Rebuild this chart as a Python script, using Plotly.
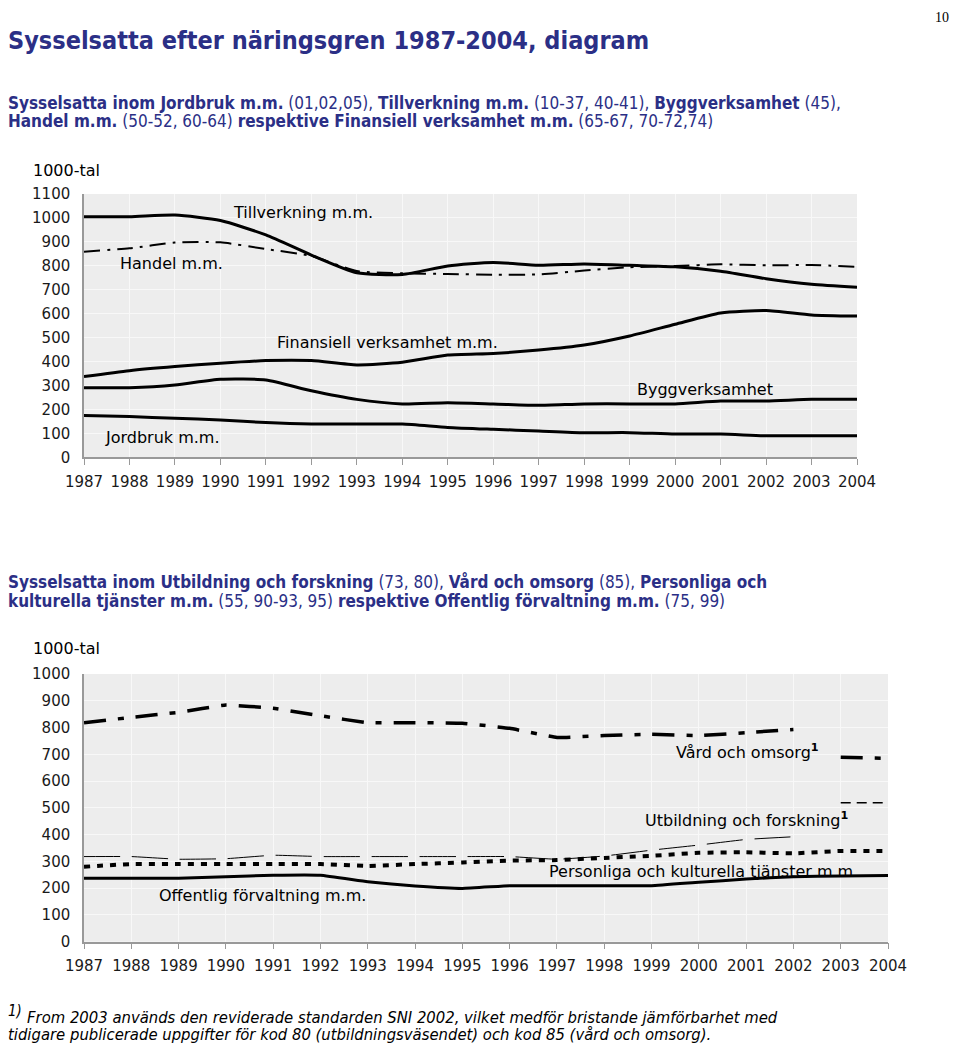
import plotly.graph_objects as go

years = list(range(1987, 2005))

# Top chart (1000-tal)
tillverkning = [1005, 1005, 1012, 989, 929, 845, 771, 764, 799, 814, 802, 808, 802, 796, 777, 746, 723, 710]
handel = [859, 873, 897, 898, 870, 841, 778, 769, 766, 763, 764, 780, 794, 799, 806, 802, 803, 796]
finansiell = [337, 362, 379, 393, 404, 404, 386, 397, 427, 434, 448, 469, 507, 556, 603, 613, 595, 590]
bygg = [291, 291, 302, 326, 323, 278, 242, 223, 228, 223, 217, 223, 223, 223, 235, 235, 242, 242]
jordbruk = [175, 170, 163, 156, 145, 139, 139, 139, 125, 117, 110, 103, 103, 97, 97, 90, 90, 90]

# Bottom chart (1000-tal); None = break in series (SNI 2002 from 2003)
vard_old = [818, 838, 857, 884, 872, 844, 818, 818, 816, 797, 763, 770, 775, 770, 781, 793, None, None]
vard_new = [None] * 16 + [689, 685]
utb_old = [318, 318, 308, 310, 323, 318, 318, 318, 318, 318, 308, 320, 342, 361, 382, 392, None, None]
utb_new = [None] * 16 + [519, 519]
personliga = [280, 290, 290, 290, 290, 290, 283, 290, 296, 303, 305, 313, 321, 332, 334, 330, 339, 339]
offentlig = [237, 237, 237, 243, 248, 248, 224, 208, 199, 209, 209, 209, 209, 222, 234, 243, 245, 247]

top_ticks = list(range(0, 1101, 100))
bot_ticks = list(range(0, 1001, 100))

OFF = 8  # page body margin
W, H = 960 - 2 * OFF, 1052 - 2 * OFF
BLUE = "#2B2F86"
FONT = "DejaVu Sans, Verdana, sans-serif"
COND = "DejaVu Sans Condensed, DejaVu Sans, sans-serif"


def px(x):
    return (x - OFF) / W


def py(y):
    return 1 - (y - OFF) / H


fig = go.Figure()


def add(xa, ya, y, width, dash, smooth=0.6):
    fig.add_trace(go.Scatter(
        x=years, y=y, xaxis=xa, yaxis=ya, mode="lines",
        line=dict(color="black", width=width, dash=dash, shape="spline", smoothing=smooth),
        connectgaps=False, hoverinfo="skip", showlegend=False))


add("x", "y", tillverkning, 3, "solid")
add("x", "y", handel, 2, "16px,7px,3px,7px")
add("x", "y", finansiell, 3, "solid")
add("x", "y", bygg, 3, "solid")
add("x", "y", jordbruk, 3, "solid")

add("x2", "y2", vard_old, 3.5, "22px,12px,6px,12px", 0.3)
add("x2", "y2", vard_new, 3.5, "22px,12px,6px,12px", 0.3)
add("x2", "y2", utb_old, 1, "36px,12px", 0.3)
add("x2", "y2", utb_new, 1.5, "10px,6px", 0.3)
add("x2", "y2", personliga, 4, "6px,7px", 0.3)
add("x2", "y2", offentlig, 3, "solid", 0.3)

axis_common = dict(
    showline=True, linecolor="#999999", linewidth=1.5,
    gridcolor="#F8F8F8", gridwidth=1, zeroline=False, automargin=False,
    tickfont=dict(family=FONT, size=15, color="#1a1a1a"),
)
xax = dict(tickvals=years, ticks="outside", ticklen=6, tickcolor="#999999",
           ticklabelstandoff=4, showgrid=True, range=[1987, 2004], **axis_common)
yax = dict(ticks="outside", ticklen=9, tickcolor="rgba(0,0,0,0)", showgrid=True, **axis_common)

fig.update_layout(
    template="none",
    width=W, height=H,
    margin=dict(l=0, r=0, t=0, b=0, pad=0, autoexpand=False),
    paper_bgcolor="white", plot_bgcolor="#EDEDED",
    xaxis=dict(domain=[px(84), px(857)], anchor="y", **xax),
    yaxis=dict(domain=[py(457.3), py(194)], anchor="x", range=[0, 1100], tickvals=top_ticks, **yax),
    xaxis2=dict(domain=[px(84), px(888)], anchor="y2", **xax),
    yaxis2=dict(domain=[py(941.7), py(674)], anchor="x2", range=[0, 1000], tickvals=bot_ticks, **yax),
)


def text(x, y, s, size=16, family=FONT, color="black", xanchor="left"):
    fig.add_annotation(x=px(x), y=py(y), xref="paper", yref="paper", text=s,
                       showarrow=False, xanchor=xanchor, yanchor="middle",
                       font=dict(family=family, size=size, color=color))


text(951, 17, "10", size=14, family="Liberation Serif, serif", xanchor="right")
text(6, 40, "<b>Sysselsatta efter näringsgren 1987-2004, diagram</b>", size=25, family=COND, color=BLUE)
text(6, 103, "<b>Sysselsatta inom Jordbruk m.m.</b> (01,02,05), <b>Tillverkning m.m.</b> (10-37, 40-41), <b>Byggverksamhet</b> (45),",
     size=17, family=COND, color=BLUE)
text(6, 121, "<b>Handel m.m.</b> (50-52, 60-64) <b>respektive Finansiell verksamhet m.m.</b> (65-67, 70-72,74)",
     size=17, family=COND, color=BLUE)

text(31, 170, "1000-tal")
text(231, 212, "Tillverkning m.m.")
text(118, 263, "Handel m.m.")
text(275, 342, "Finansiell verksamhet m.m.")
text(635, 389, "Byggverksamhet")
text(103, 437, "Jordbruk m.m.")

text(6, 581, "<b>Sysselsatta inom Utbildning och forskning</b> (73, 80), <b>Vård och omsorg</b> (85), <b>Personliga och</b>",
     size=17, family=COND, color=BLUE)
text(6, 601, "<b>kulturella tjänster m.m.</b> (55, 90-93, 95) <b>respektive Offentlig förvaltning m.m.</b> (75, 99)",
     size=17, family=COND, color=BLUE)

text(31, 648, "1000-tal")
text(674, 751, "Vård och omsorg<sup><b>1</b></sup>")
text(643, 819, "Utbildning och forskning<sup><b>1</b></sup>")
text(547, 871, "Personliga och kulturella tjänster m.m.")
text(157, 895, "Offentlig förvaltning m.m.")

text(6, 1011, "<i>1)</i>", size=15, family=COND)
text(25, 1017, "<i>From 2003 används den reviderade standarden SNI 2002, vilket medför bristande jämförbarhet med</i>",
     size=16.5, family=COND)
text(6, 1034, "<i>tidigare publicerade uppgifter för kod 80 (utbildningsväsendet) och kod 85 (vård och omsorg).</i>",
     size=16.5, family=COND)

fig.write_html("out.html")
